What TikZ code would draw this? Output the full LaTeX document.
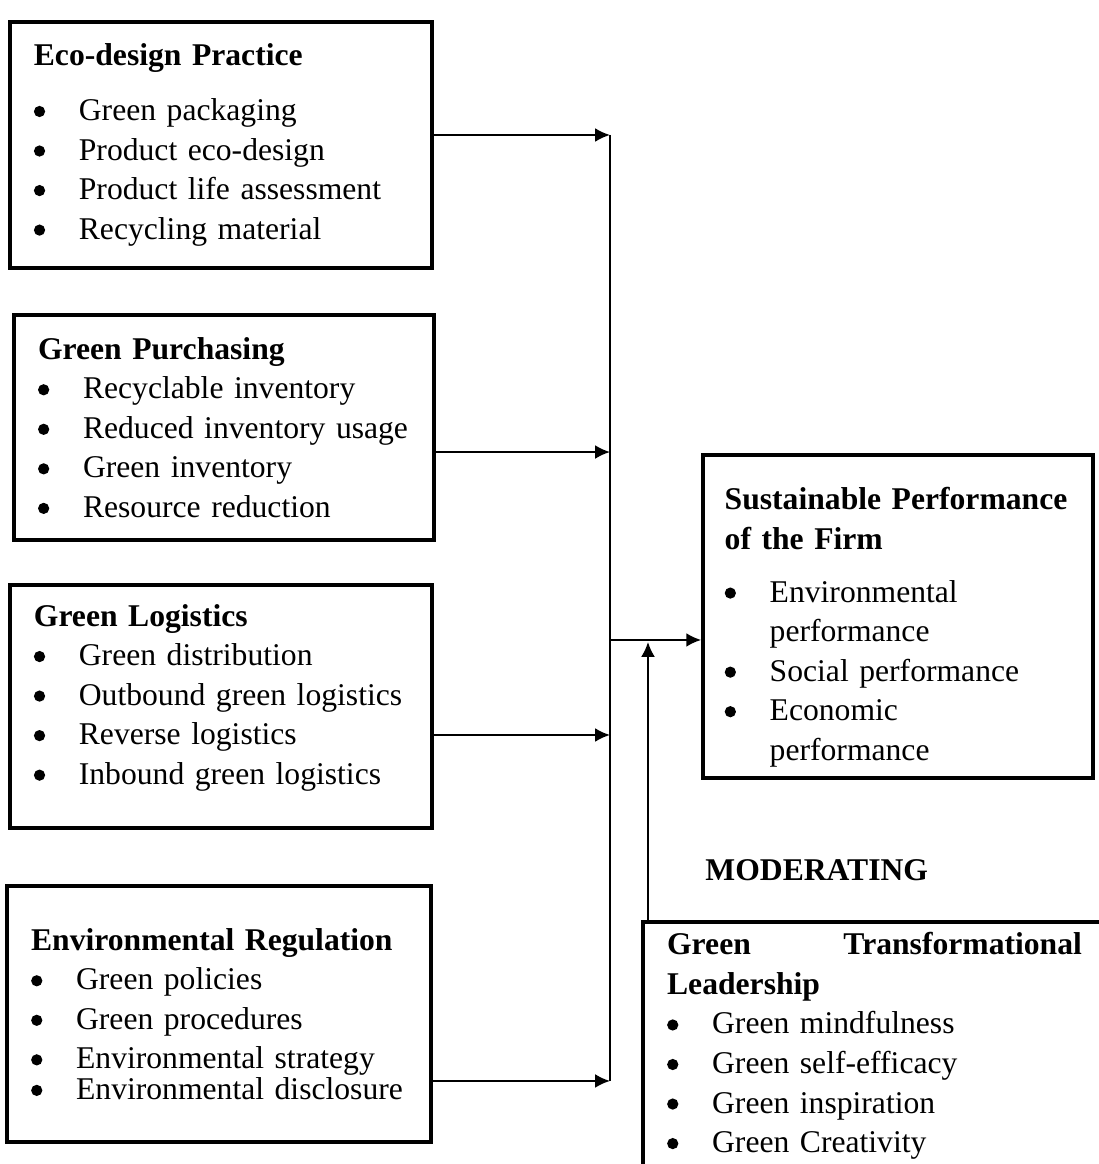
\documentclass[tikz,border=0pt]{standalone}
\usepackage{fontspec}
\setmainfont{Liberation Serif}
\usetikzlibrary{positioning,arrows.meta}

\newcommand{\dotmark}{\tikz[baseline={(0,-0.12cm)}]\fill (0,0) circle (0.075cm);}
\newcommand{\itm}[1]{\par\noindent\makebox[0.6cm][l]{\dotmark}#1}
\newcommand{\itmm}[2]{\itm{#1}\par\noindent\hspace*{0.6cm}#2}

\begin{document}
\begin{tikzpicture}[every node/.style={font=\fontsize{12pt}{15pt}\selectfont, align=left},
  factor/.style={draw, line width=1.4pt, inner xsep=0.32cm, inner ysep=0pt},
  link/.style={-{Latex[length=5.6pt,width=5.2pt]}, line width=0.7pt}]
  \useasboundingbox (0,0) rectangle (14.653,15.52);
  \clip (0,0) rectangle (14.653,15.52);
  % independent variables
  \node[factor, text width=4.99cm, minimum height=3.28cm] (eco) at (2.947,13.587) {\textbf{Eco-design Practice}\par\vspace{0.2cm}\itm{Green packaging}\itm{Product eco-design}\itm{Product life assessment}\itm{Recycling material}};
  \node[factor, text width=4.96cm, minimum height=3.0cm] (purch) at (2.987,9.82) {\textbf{Green Purchasing}\itm{Recyclable inventory}\itm{Reduced inventory usage}\itm{Green inventory}\itm{Resource reduction}};
  \node[factor, text width=4.99cm, minimum height=3.24cm] (logis) at (2.947,6.1) {\textbf{Green Logistics}\itm{Green distribution}\itm{Outbound green logistics}\itm{Reverse logistics}\itm{Inbound green logistics\rule[-0.33cm]{0pt}{0.01cm}}};
  \node[factor, text width=5.01cm, minimum height=3.413cm] (regul) at (2.92,2.0) {\textbf{Environmental Regulation}\itm{Green policies}\itm{Green procedures}\itm{Environmental strategy}\par\vspace{-0.12cm}\itm{Environmental disclosure}};
  % dependent variable and moderator
  \node[factor, text width=4.62cm, inner xsep=0.29cm, minimum height=4.307cm] (perf) at (11.973,7.3) {\rule{0pt}{0.58cm}\mbox{\textbf{Sustainable Performance}}\par\noindent\textbf{of the Firm}\par\vspace{0.18cm}\itmm{Environmental}{performance}\itm{Social performance}\itmm{Economic}{performance}};
  \node[font=\fontsize{12pt}{15pt}\selectfont\bfseries] (moder) at (10.89,3.92) {MODERATING};
  \node[factor, text width=5.53cm, minimum height=3.307cm] (lead) at (11.66,1.573) {\textbf{Green\hfill Transformational}\par\noindent\textbf{Leadership}\itm{Green mindfulness}\itm{Green self-efficacy}\itm{Green inspiration}\itm{Green Creativity}};
  % joints on the collecting line
  \coordinate (j1) at (8.133,13.72);
  \coordinate (j2) at (8.133,9.493);
  \coordinate (j3) at (8.133,5.72);
  \coordinate (j4) at (8.133,1.107);
  \coordinate (jm) at (8.133,6.987);
  \coordinate (up) at (8.64,6.96);
  \draw[line width=0.4pt] (j1) -- (j4);
  \draw[link] (eco.east |- j1) -- (j1);
  \draw[link] (purch.east |- j2) -- (j2);
  \draw[link] (logis.east |- j3) -- (j3);
  \draw[link] (regul.east |- j4) -- (j4);
  \draw[link] (jm) -- (perf.west |- jm);
  \draw[link] (lead.north -| up) -- (up);
\end{tikzpicture}
\end{document}
